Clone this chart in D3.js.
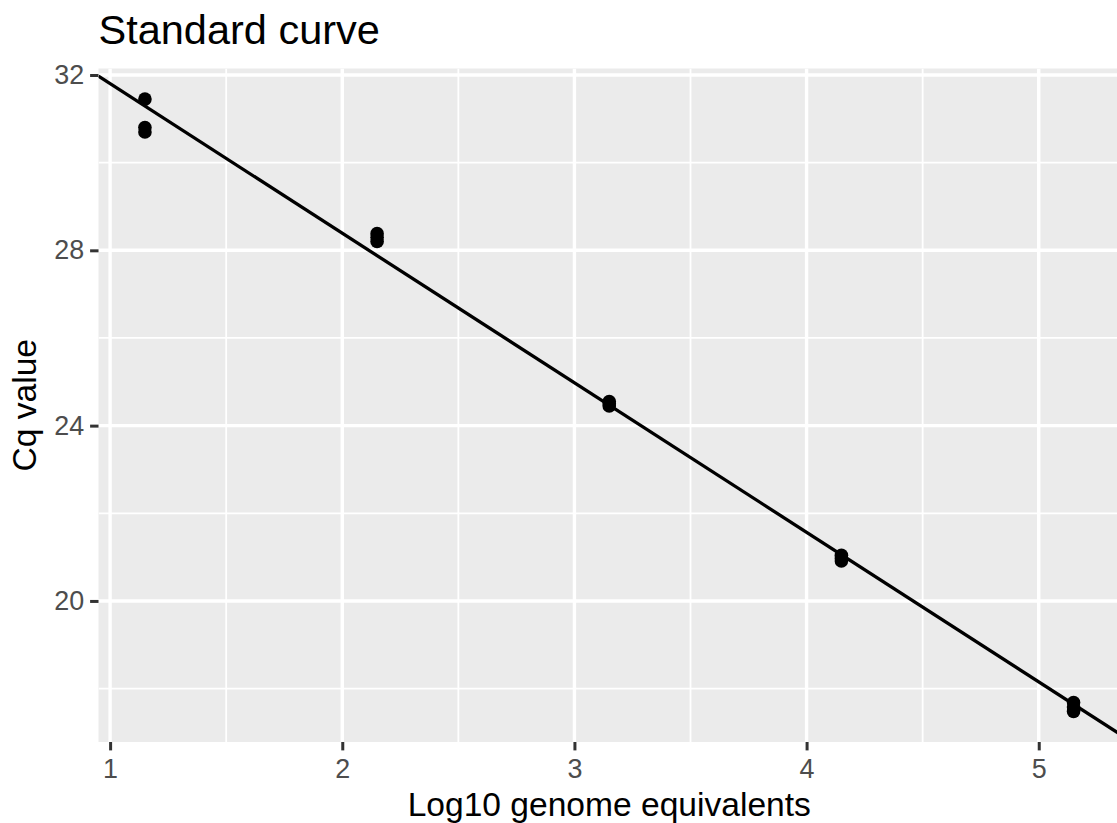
<!DOCTYPE html>
<html>
<head>
<meta charset="utf-8">
<title>Standard curve</title>
<script src="https://cdn.jsdelivr.net/npm/d3@7"></script>
<style>
  body { margin: 0; background: #fff; }
  svg { display: block; font-family: "Liberation Sans", Arial, Helvetica, sans-serif; }
</style>
</head>
<body>
<svg id="chart" width="1117" height="823"></svg>
<script>
// standard dilution series, three replicates per level
var logGE = [1.15, 1.15, 1.15, 2.15, 2.15, 2.15, 3.15, 3.15, 3.15, 4.15, 4.15, 4.15, 5.15, 5.15, 5.15];
var cq    = [31.45, 30.80, 30.70, 28.38, 28.30, 28.20, 24.55, 24.50, 24.45, 21.04, 20.97, 20.91, 17.68, 17.58, 17.48];

var xTicks = [1, 2, 3, 4, 5];
var yTicks = [20, 24, 28, 32];
var xMinor = [1.5, 2.5, 3.5, 4.5];
var yMinor = [18, 22, 26, 30];

var panel = { left: 98.5, top: 68.5, right: 1120, bottom: 742 };

var svg = d3.select("#chart");

// ggplot-style 5% expansion of the data range
function expand(ext) {
    var pad = (ext[1] - ext[0]) * 0.05;
    return [ext[0] - pad, ext[1] + pad];
}

var x = d3.scaleLinear()
    .domain(expand(d3.extent(logGE)))
    .range([panel.left, panel.right]);
var y = d3.scaleLinear()
    .domain(expand(d3.extent(cq)))
    .range([panel.bottom, panel.top]);

// least squares fit for the standard curve
var mx = d3.mean(logGE), my = d3.mean(cq);
var sxy = d3.sum(logGE, function(d, i) { return (d - mx) * (cq[i] - my); });
var sxx = d3.sum(logGE, function(d) { return (d - mx) * (d - mx); });
var slope = sxy / sxx;
var intercept = my - slope * mx;

svg.append("defs").append("clipPath").attr("id", "clip")
    .append("rect")
    .attr("x", panel.left).attr("y", panel.top)
    .attr("width", panel.right - panel.left)
    .attr("height", panel.bottom - panel.top);

// panel background
svg.append("rect")
    .attr("x", panel.left).attr("y", panel.top)
    .attr("width", panel.right - panel.left)
    .attr("height", panel.bottom - panel.top)
    .attr("fill", "#EBEBEB");

var grid = svg.append("g").attr("clip-path", "url(#clip)");

grid.selectAll(".vminor").data(xMinor).enter().append("line")
    .attr("x1", x).attr("x2", x)
    .attr("y1", panel.top).attr("y2", panel.bottom)
    .attr("stroke", "#fff").attr("stroke-width", 1.8);
grid.selectAll(".hminor").data(yMinor).enter().append("line")
    .attr("y1", y).attr("y2", y)
    .attr("x1", panel.left).attr("x2", panel.right)
    .attr("stroke", "#fff").attr("stroke-width", 1.8);
grid.selectAll(".vmajor").data(xTicks).enter().append("line")
    .attr("x1", x).attr("x2", x)
    .attr("y1", panel.top).attr("y2", panel.bottom)
    .attr("stroke", "#fff").attr("stroke-width", 3.4);
grid.selectAll(".hmajor").data(yTicks).enter().append("line")
    .attr("y1", y).attr("y2", y)
    .attr("x1", panel.left).attr("x2", panel.right)
    .attr("stroke", "#fff").attr("stroke-width", 3.4);

// points
var plot = svg.append("g").attr("clip-path", "url(#clip)");
plot.selectAll("circle")
    .data(logGE)
    .enter()
    .append("circle")
    .attr("cx", function(d) { return x(d); })
    .attr("cy", function(d, i) { return y(cq[i]); })
    .attr("r", 6.8)
    .attr("fill", "#000");

// fitted line across the whole panel
var xd = x.domain();
plot.append("line")
    .attr("x1", x(xd[0])).attr("y1", y(intercept + slope * xd[0]))
    .attr("x2", x(xd[1])).attr("y2", y(intercept + slope * xd[1]))
    .attr("stroke", "#000")
    .attr("stroke-width", 3.3);

// axes
var xAxis = svg.append("g")
    .attr("transform", "translate(0," + panel.bottom + ")")
    .call(d3.axisBottom(x).tickValues(xTicks).tickSize(8.4).tickPadding(9).tickFormat(d3.format("d")));
var yAxis = svg.append("g")
    .attr("transform", "translate(" + panel.left + ",0)")
    .call(d3.axisLeft(y).tickValues(yTicks).tickSize(8.4).tickPadding(6).tickFormat(d3.format("d")));

[xAxis, yAxis].forEach(function(a) {
    a.select(".domain").remove();
    a.selectAll(".tick line").attr("stroke", "#333").attr("stroke-width", 3);
    a.selectAll(".tick text")
        .attr("fill", "#4D4D4D")
        .attr("font-size", 26.9)
        .attr("font-family", "'Liberation Sans', Arial, sans-serif");
});

// titles
svg.append("text")
    .attr("x", panel.left)
    .attr("y", 43.5)
    .attr("font-size", 41.5)
    .attr("fill", "#000")
    .text("Standard curve");

svg.append("text")
    .attr("x", (panel.left + panel.right) / 2)
    .attr("y", 816)
    .attr("text-anchor", "middle")
    .attr("font-size", 33.6)
    .attr("fill", "#000")
    .text("Log10 genome equivalents");

svg.append("text")
    .attr("transform", "translate(36," + (panel.top + panel.bottom) / 2 + ") rotate(-90)")
    .attr("text-anchor", "middle")
    .attr("font-size", 33.6)
    .attr("fill", "#000")
    .text("Cq value");
</script>
</body>
</html>
